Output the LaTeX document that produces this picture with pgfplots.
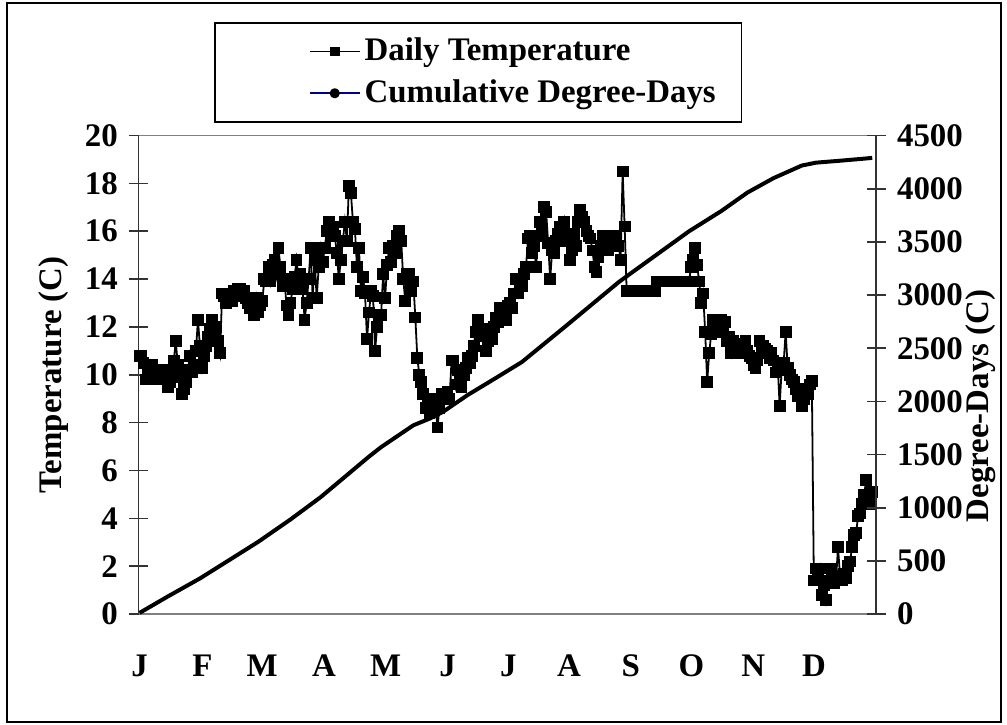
\documentclass[border=0pt]{standalone}
\usepackage{pgfplots}
\pgfplotsset{compat=1.18}
\usepackage{pgfplotstable}
\usepackage{fontspec}
\setmainfont{Liberation Serif}

% daily mean temperature, one value per day (Jan 1 .. Dec 31)
\pgfplotstableread[row sep=\\]{
t\\
10.8\\10.8\\10.5\\9.8\\10.2\\9.8\\10.4\\9.9\\10.2\\9.8\\
10.1\\10.2\\9.8\\10.0\\9.5\\9.7\\10.2\\10.6\\11.4\\10.4\\
9.9\\9.2\\9.4\\9.7\\10.2\\10.8\\10.1\\10.4\\11.0\\12.3\\11.2\\
10.3\\10.8\\11.2\\11.6\\11.9\\12.3\\11.6\\12.0\\11.4\\10.9\\
13.4\\13.3\\13.0\\13.4\\13.2\\13.1\\13.5\\13.4\\13.6\\13.6\\
13.3\\13.5\\13.2\\13.0\\12.8\\13.0\\12.5\\13.2\\
12.6\\12.9\\13.1\\14.0\\13.9\\14.5\\13.9\\14.6\\14.8\\14.2\\
15.3\\14.5\\13.7\\14.0\\12.9\\12.5\\13.0\\13.6\\14.1\\14.8\\
14.0\\14.2\\13.6\\12.3\\13.0\\14.0\\15.3\\13.2\\14.8\\13.2\\14.5\\
15.3\\14.7\\15.3\\16.0\\16.4\\15.8\\16.2\\15.8\\15.1\\14.0\\
14.8\\15.6\\16.4\\15.6\\17.9\\17.6\\16.4\\16.1\\14.5\\15.3\\
13.5\\14.1\\13.4\\11.5\\12.6\\13.5\\13.3\\11.0\\12.0\\12.5\\
12.5\\14.2\\13.2\\14.6\\15.3\\14.7\\15.4\\15.1\\15.8\\16.0\\
15.6\\14.0\\13.1\\14.2\\14.2\\13.5\\13.9\\12.4\\10.7\\10.0\\
9.7\\9.2\\8.6\\8.8\\8.4\\8.5\\9.0\\8.7\\7.8\\8.6\\9.2\\
9.0\\9.2\\9.3\\9.0\\10.6\\10.6\\9.6\\10.2\\9.8\\9.5\\
10.0\\10.3\\10.7\\10.5\\10.8\\11.2\\11.8\\12.3\\11.6\\11.9\\
11.9\\11.0\\11.4\\11.6\\11.5\\12.0\\12.4\\12.2\\12.8\\12.5\\
12.4\\12.3\\12.9\\13.0\\12.8\\13.4\\14.0\\13.4\\13.7\\13.7\\
14.2\\14.5\\15.7\\15.8\\15.1\\15.4\\14.5\\15.8\\16.4\\16.0\\
17.0\\16.8\\15.5\\14.0\\15.2\\15.1\\15.6\\15.9\\16.2\\15.8\\16.4\\
15.6\\15.9\\14.8\\15.2\\15.9\\15.4\\16.4\\16.9\\16.6\\16.4\\
16.0\\15.8\\15.7\\15.2\\14.5\\14.3\\14.9\\15.4\\15.8\\15.4\\
15.6\\15.2\\15.5\\15.8\\15.6\\15.8\\15.4\\14.8\\18.5\\16.2\\13.5\\
13.5\\13.5\\13.5\\13.5\\13.5\\13.5\\13.5\\13.5\\13.5\\13.5\\
13.5\\13.5\\13.5\\13.5\\
13.9\\13.9\\13.9\\13.9\\13.9\\13.9\\13.9\\13.9\\13.9\\13.9\\
13.9\\13.9\\13.9\\13.9\\13.9\\13.9\\
13.9\\14.5\\14.8\\15.3\\14.6\\13.9\\13.0\\13.4\\11.8\\9.7\\
10.9\\11.7\\12.3\\12.2\\11.8\\12.3\\12.3\\11.9\\12.2\\11.4\\
11.6\\10.9\\11.4\\11.1\\10.9\\11.3\\11.1\\10.9\\11.4\\11.0\\10.8\\
10.7\\10.4\\10.3\\10.6\\11.4\\10.9\\11.2\\11.1\\11.0\\10.7\\
10.9\\10.6\\10.1\\10.5\\8.7\\10.2\\10.5\\11.8\\10.3\\10.0\\
9.8\\9.7\\9.4\\9.1\\9.4\\8.7\\9.0\\9.4\\9.2\\9.6\\
9.75\\1.4\\1.9\\1.5\\1.9\\0.8\\1.2\\0.6\\1.4\\1.9\\
1.5\\1.3\\1.4\\2.8\\1.6\\1.4\\1.7\\1.5\\2.0\\2.2\\
2.8\\3.3\\3.4\\4.1\\4.2\\4.6\\5.0\\5.6\\5.0\\4.6\\5.1\\
}\temps

\begin{document}
\fontsize{16.5}{19}\selectfont\bfseries
\begin{tikzpicture}
\pgfplotsset{
  common/.style={
    scale only axis, width=370pt, height=240pt,
    xmin=0.5, xmax=367,
    tick align=center, major tick length=9.5pt,
    /pgf/number format/assume math mode=true,
    tick label style={font=\fontsize{16.5}{19}\selectfont\bfseries},
    label style={font=\fontsize{16.5}{19}\selectfont\bfseries},
  },
  legimg/.style={legend image code/.code={
    \path[draw=none, fill=none] (0pt,-4pt) rectangle (73pt,4pt);
    \draw[mark repeat=2,mark phase=2,##1] plot coordinates {(47.5pt,0pt) (60pt,0pt) (72.5pt,0pt)};
  }},
}
\begin{axis}[
  common, name=main,
  ymin=0, ymax=20,
  axis x line*=bottom, axis y line*=left,
  x axis line style={draw=gray, line width=0.9pt},
  y axis line style={draw=black!80, line width=0.9pt},
  ytick={0,2,...,20},
  y tick style={black!80, line width=0.8pt},
  xtick={1,32.2,61.9,92.6,123.3,154,184.2,214.4,245,275.2,305.9,336.1},
  xticklabels={J,F,M,A,M,J,J,A,S,O,N,D},
  x tick style={draw=none},
  xticklabel style={yshift=-10pt},
  ylabel={Temperature (C)},
  every axis y label/.style={at={(axis description cs:-0.115,0.5)}, rotate=90, anchor=center},
]
\addplot[black, line width=0.9pt, mark=square*, mark size=2.5pt, mark options={solid}]
  table[x expr=\coordindex+1, y=t]{\temps};
\draw[gray, line width=0.9pt] (rel axis cs:0,1) -- (rel axis cs:1,1);
\end{axis}
\begin{axis}[
  common,
  ymin=0, ymax=4500,
  axis x line=none, axis y line*=right,
  y axis line style={draw=black!80, line width=0.9pt},
  y tick style={black!80, line width=0.8pt},
  ytick={0,500,...,4500},
  scaled y ticks=false,
  /pgf/number format/1000 sep={},
  ylabel={Degree-Days (C)},
  every axis y label/.style={at={(axis description cs:1.142,0.435)}, rotate=90, anchor=center},
  legend cell align=left,
  legend style={at={(axis description cs:0.1027,1.2375)}, anchor=north west,
    draw=black, line width=0.8pt, inner xsep=0pt, inner ysep=5.5pt, row sep=3pt,
    font=\fontsize{16.5}{19}\selectfont\bfseries},
]
\addlegendimage{black, line width=0.9pt, mark=square*, mark size=2pt, legimg}
\addlegendentry{\makebox[187pt][l]{Daily Temperature}}
\addplot[black, line width=2pt, line join=round,
  legend image code/.code={
    \path[draw=none, fill=none] (0pt,-4pt) rectangle (73pt,4pt);
    \draw[blue!55!black, line width=0.9pt] (47.5pt,0pt) -- (72.5pt,0pt);
    \fill[black] (60pt,0pt) circle (1.5pt);
  }] coordinates {
  (1,11) (15,165) (31,335) (47,525) (60,680) (76,890) (91,1100)
  (115,1481) (121,1570) (137,1775) (145,1837) (152,1905) (164,2060)
  (178,2220) (191,2371) (213,2712) (239,3121) (244,3190) (259,3395)
  (274,3600) (290,3790) (303,3964) (316,4100) (330,4218) (337,4245)
  (350,4265) (361,4283) (365,4290)
};
\addlegendentry{\makebox[187pt][l]{Cumulative Degree-Days}}
\end{axis}
\draw[black, line width=0.8pt] ([shift={(-66pt,-54pt)}]main.south west) rectangle ([shift={(432.5pt,306.5pt)}]main.south west);
\useasboundingbox ([shift={(-69.5pt,-55.5pt)}]main.south west) rectangle ([shift={(434pt,308pt)}]main.south west);
\end{tikzpicture}
\end{document}
